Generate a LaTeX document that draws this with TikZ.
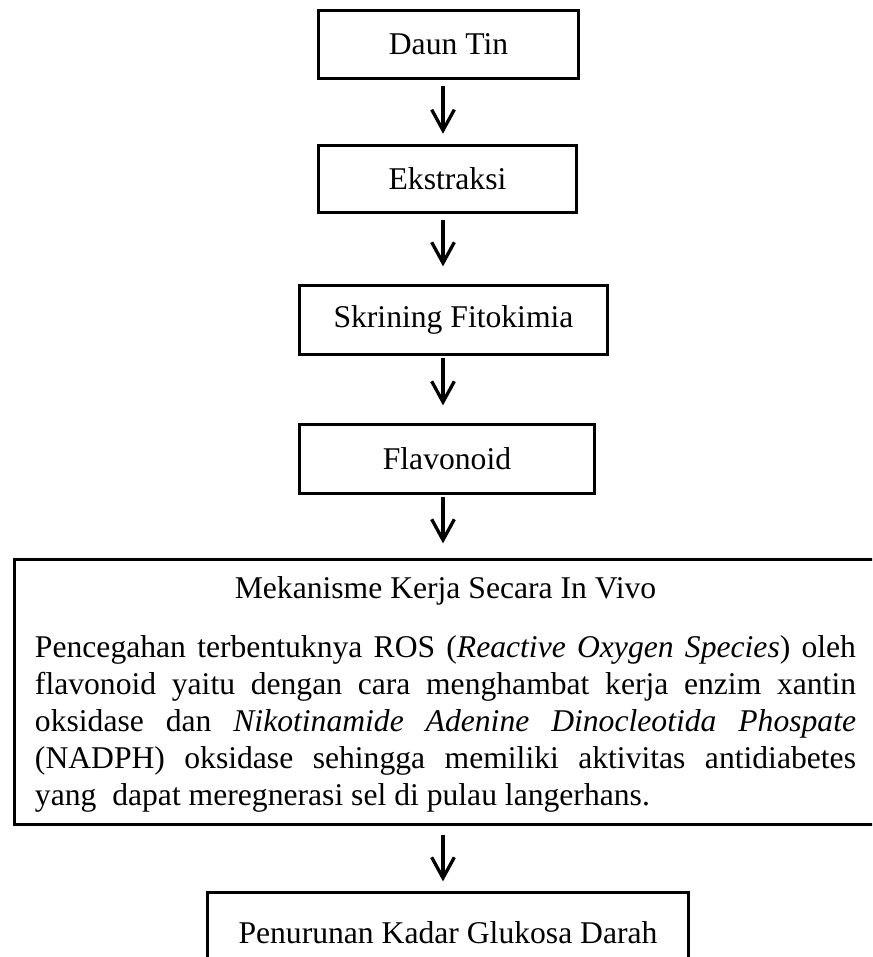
\documentclass[tikz,border=0pt]{standalone}
\usepackage{fontspec}
\setmainfont{Liberation Serif}
\usetikzlibrary{arrows.meta}
\tikzset{
  kotak/.style={draw,line width=2.8pt,inner sep=0pt,font=\fontsize{27}{31.6}\selectfont},
  panah/.style={-{Straight Barb[length=0.62cm,width=0.68cm]},line width=2.8pt}
}
\begin{document}
\begin{tikzpicture}[x=0.03cm,y=-0.03cm]
            \useasboundingbox (0,0) rectangle (872,957);
            \clip (0,0) rectangle (872,957);
            \coordinate (ax) at (443,0);
            \node[kotak,minimum width=7.8cm,minimum height=2.04cm] (daun) at (448.5,44.5) {Daun Tin};
            \node[kotak,minimum width=7.75cm,minimum height=2.02cm] (ekstr) at (447.5,179) {Ekstraksi};
            \node[kotak,minimum width=9.25cm,minimum height=2.08cm] (skrin) at (453.5,320) {Skrining Fitokimia};
            \node[kotak,minimum width=8.86cm,minimum height=2.08cm] (flav) at (447,459) {Flavonoid};
            \node[kotak,minimum width=25.87cm,minimum height=7.96cm,text width=24.63cm,align=justify] (meka) at (445.5,692)
              {\hyphenpenalty=10000 \emergencystretch=3em
               {\centering\rule{0pt}{23pt}Mekanisme Kerja Secara In Vivo\par}\vspace{18pt}%
               Pencegahan terbentuknya ROS (\textit{Reactive Oxygen Species}) oleh\linebreak
               flavonoid yaitu dengan cara menghambat kerja enzim xantin\linebreak
               oksidase dan \textit{Nikotinamide Adenine Dinocleotida Phospate}\linebreak
               (NADPH) oksidase sehingga memiliki aktivitas antidiabetes\linebreak
               yang\ \ dapat meregnerasi sel di pulau langerhans.};
            \node[kotak,minimum width=14.44cm,minimum height=2.44cm] (glukosa) at (448,933) {Penurunan Kadar Glukosa Darah};
            \draw[panah,shorten <=0.19cm,shorten >=0.3cm] (daun.south -| ax) -- (ekstr.north -| ax);
            \draw[panah,shorten <=0.16cm,shorten >=0.52cm] (ekstr.south -| ax) -- (skrin.north -| ax);
            \draw[panah,shorten <=0.04cm,shorten >=0.52cm] (skrin.south -| ax) -- (flav.north -| ax);
            \draw[panah,shorten <=0.04cm,shorten >=0.43cm] (flav.south -| ax) -- (meka.north -| ax);
            \draw[panah,shorten <=0.25cm,shorten >=0.28cm] (meka.south -| ax) -- (glukosa.north -| ax);
        \end{tikzpicture}
\end{document}
